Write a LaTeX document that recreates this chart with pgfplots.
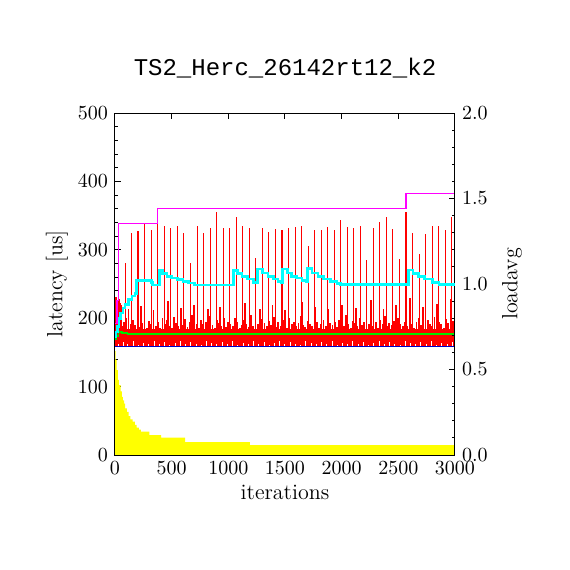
\documentclass[border=0pt]{standalone}
\usepackage{fontspec}
\usepackage{pgfplots}
\usepackage{pgfplotstable}
\pgfplotsset{compat=1.18}
\newfontfamily\titlefont{Liberation Mono}
\definecolor{cy}{RGB}{0,255,255}
\definecolor{mg}{RGB}{255,0,255}
\definecolor{gr}{RGB}{0,230,0}
\definecolor{bl}{RGB}{0,0,200}
\definecolor{ye}{RGB}{255,255,0}
\definecolor{rd}{RGB}{255,0,0}

% tall latency spikes
\pgfplotstableread{
x h
29 231
91 280
144 324
203 327.5
259 337.7
320 329
373 338.7
435 334.8
488 331.9
550 334.8
603 324.6
664 280
726 334.8
779 324.6
841 331.9
894 355.3
956 331.9
1009 331.9
1070 348
1123 334.8
1185 331.9
1238 288
1300 331.9
1353 326
1414 330.4
1467 318
1474 329
1529 331.9
1591 333.3
1644 334.8
1706 305.6
1759 329
1820 329
1873 333.3
1935 329
1988 343.6
2050 333.3
2103 331.9
2164 334.8
2217 285
2279 331.9
2332 340.6
2394 348
2447 330.4
2509 286.5
2568 355.3
2575 340
2623 324.6
2685 293.9
2738 323
2800 334.8
2853 334.8
2914 329
2967 348
}\spikes

% dense noise above the base band
\pgfplotstableread{
x h
5 215
12 231
20 224
38 228
47 212
55 219
60 188
80 195
100 201
120 186
140 192
160 198
180 190
200 204
220 187
240 193
260 199
280 185
300 196
320 191
340 203
360 188
380 194
400 186
420 200
440 192
460 197
480 189
500 185
520 202
540 193
560 188
580 196
600 190
620 199
640 187
660 194
680 205
700 189
720 192
740 186
760 198
780 191
800 195
820 188
840 203
860 190
880 186
900 197
920 193
940 189
960 200
980 187
1000 195
1020 192
1040 188
1060 201
1080 194
1100 186
1120 190
1140 198
1160 192
1180 187
1200 204
1220 189
1240 195
1260 191
1280 186
1300 199
1320 193
1340 188
1360 196
1380 190
1400 202
1420 187
1440 194
1460 189
1480 197
1500 192
1520 186
1540 200
1560 191
1580 195
1600 188
1620 193
1640 203
1660 190
1680 187
1700 196
1720 192
1740 189
1760 199
1780 194
1800 186
1820 191
1840 197
1860 188
1880 202
1900 193
1920 190
1940 195
1960 187
1980 198
2000 192
2020 189
2040 204
2060 191
2080 186
2100 196
2120 193
2140 188
2160 200
2180 190
2200 195
2220 187
2240 192
2260 199
2280 189
2300 194
2320 186
2340 197
2360 191
2380 203
2400 188
2420 193
2440 190
2460 196
2480 187
2500 201
2520 192
2540 189
2560 195
2580 188
2600 198
2620 191
2640 186
2660 194
2680 200
2700 190
2720 193
2740 187
2760 197
2780 192
2800 189
2820 202
2840 188
2860 195
2880 191
2900 186
2920 199
2940 193
2960 190
2980 196
45 222
120 214
230 218
340 212
470 225
580 215
700 220
820 213
930 217
1150 222
1280 214
1390 219
1500 212
1650 224
1770 216
1880 213
2000 220
2130 215
2260 226
2370 214
2480 219
2600 230
2720 216
2840 221
2960 228
}\noise

% white gaps at the bottom of the band
\pgfplotstableread{
x h
30 163
75 165
110 162
160 166
205 161
250 164
300 163
345 166
390 162
440 165
480 161
530 164
575 166
620 162
670 165
715 163
760 161
810 166
850 164
900 162
945 165
990 163
1040 166
1085 161
1130 164
1175 162
1225 166
1270 163
1315 165
1360 161
1410 164
1455 166
1500 162
1545 165
1590 163
1640 161
1685 166
1730 164
1775 162
1820 165
1870 163
1915 166
1960 161
2005 164
2050 162
2100 166
2145 163
2190 165
2235 161
2285 164
2330 166
2375 162
2420 165
2470 163
2515 161
2560 166
2610 164
2655 162
2700 165
2750 163
2795 166
2840 161
2885 164
2930 162
2975 165
}\gaps

\begin{document}
\begin{tikzpicture}
\pgfplotsset{
  common/.style={
    at={(0,0)}, anchor=south west,
    scale only axis, width=170pt, height=171pt,
    xmin=0, xmax=3000,
    tick align=inside,
    major tick length=3pt, minor tick length=1.5pt,
    axis line style={line width=0.5pt},
    every tick/.style={black, line width=0.5pt},
    /pgf/number format/1000 sep={},
    label style={font=\fontsize{11}{13}\selectfont},
  },
  bars/.style 2 args={only marks, mark=*, mark size=0pt, mark options={draw=none, fill=none},
    error bars/.cd, y dir=plus, y explicit, error mark=none,
    error bar style={draw=#1, line width=#2}},
}
\begin{axis}[common,
  ymin=0, ymax=500,
  xtick={0,500,1000,1500,2000,2500,3000},
  ytick={0,100,200,300,400,500},
  minor y tick num=4,
  ytick pos=left,
  xlabel={iterations},
  ylabel={latency [us]},
  xlabel style={at={(axis description cs:0.5,-0.108)}, anchor=center},
  ylabel style={at={(axis description cs:-0.1706,0.5)}, anchor=center},
  title={\titlefont\fontsize{12}{14}\selectfont TS2\_Herc\_26142rt12\_k2},
  title style={at={(0.5,1.075)}, anchor=base, yshift=0pt},
]
% yellow histogram
\addplot[fill=ye, draw=none, const plot] coordinates {
(0,152) (5,139) (15,124) (25,110) (35,102) (50,93) (60,85) (70,80) (80,75)
(90,68) (105,63) (120,57) (135,52) (155,48.7) (175,44) (191,40) (210,37)
(229,34) (303,29.2) (406,25.3) (618,19) (1191,14.6) (3000,14.6)} \closedcycle;

% red base band
\addplot[fill=rd, draw=none] coordinates {(0,158) (0,184) (3000,184) (3000,158)} -- cycle;

% noise bars
\addplot[bars={rd}{0.9pt}]
  table[x=x, y expr=158, y error plus expr=\thisrow{h}-158] {\noise};

% tall spikes
\addplot[bars={rd}{0.6pt}]
  table[x=x, y expr=158, y error plus expr=\thisrow{h}-158] {\spikes};

% white gaps
\addplot[bars={white}{0.5pt}]
  table[x=x, y expr=158, y error plus expr=\thisrow{h}-158] {\gaps};

% average (green)
\addplot[gr, line width=0.8pt, const plot] coordinates {
(0,170) (10,174) (30,180) (60,178) (110,177) (1820,176.5) (3000,175.5)};

% minimum (blue)
\addplot[bl, line width=0.5pt] coordinates {(0,158) (3000,158)};

% maximum (magenta)
\addplot[mg, line width=0.6pt, const plot] coordinates {
(0,192) (18,226) (29,338.7) (373,360.6) (2568,382.6) (3000,382.6)};
\end{axis}

\begin{axis}[common,
  ymin=0, ymax=2,
  xtick=\empty,
  ytick={0,0.5,1,1.5,2},
  minor y tick num=4,
  ytick pos=right, yticklabel pos=right,
  yticklabel style={/pgf/number format/fixed, /pgf/number format/fixed zerofill, /pgf/number format/precision=1},
  ylabel={loadavg},
  ylabel style={at={(axis description cs:1.168,0.5)}, anchor=center},
]
\addplot[cy, line width=1.3pt, const plot] coordinates {
(0,0.69) (10,0.72) (20,0.75) (35,0.80) (50,0.83) (70,0.86) (90,0.88) (120,0.91)
(150,0.93) (175,0.945) (190,1.02) (320,1.01) (330,0.995) (385,0.995) (392,1.08)
(420,1.06) (460,1.045) (500,1.035) (550,1.025) (600,1.015) (650,1.005) (700,0.995)
(1038,0.995) (1044,1.08) (1080,1.06) (1120,1.045) (1170,1.03) (1220,1.01)
(1256,1.088) (1300,1.065) (1350,1.045) (1400,1.03) (1440,1.015) (1471,1.005)
(1478,1.088) (1520,1.065) (1560,1.045) (1600,1.035) (1650,1.02) (1690,1.013)
(1697,1.09) (1740,1.065) (1790,1.045) (1840,1.03) (1900,1.015) (1960,1.003)
(1990,0.997) (2580,0.997) (2588,1.082) (2630,1.06) (2680,1.045) (2730,1.03)
(2800,1.01) (2860,0.997) (3000,0.997)};
\end{axis}
\pgfresetboundingbox
\useasboundingbox (-57.5pt,-57.5pt) rectangle (227.5pt,227.5pt);
\end{tikzpicture}
\end{document}
